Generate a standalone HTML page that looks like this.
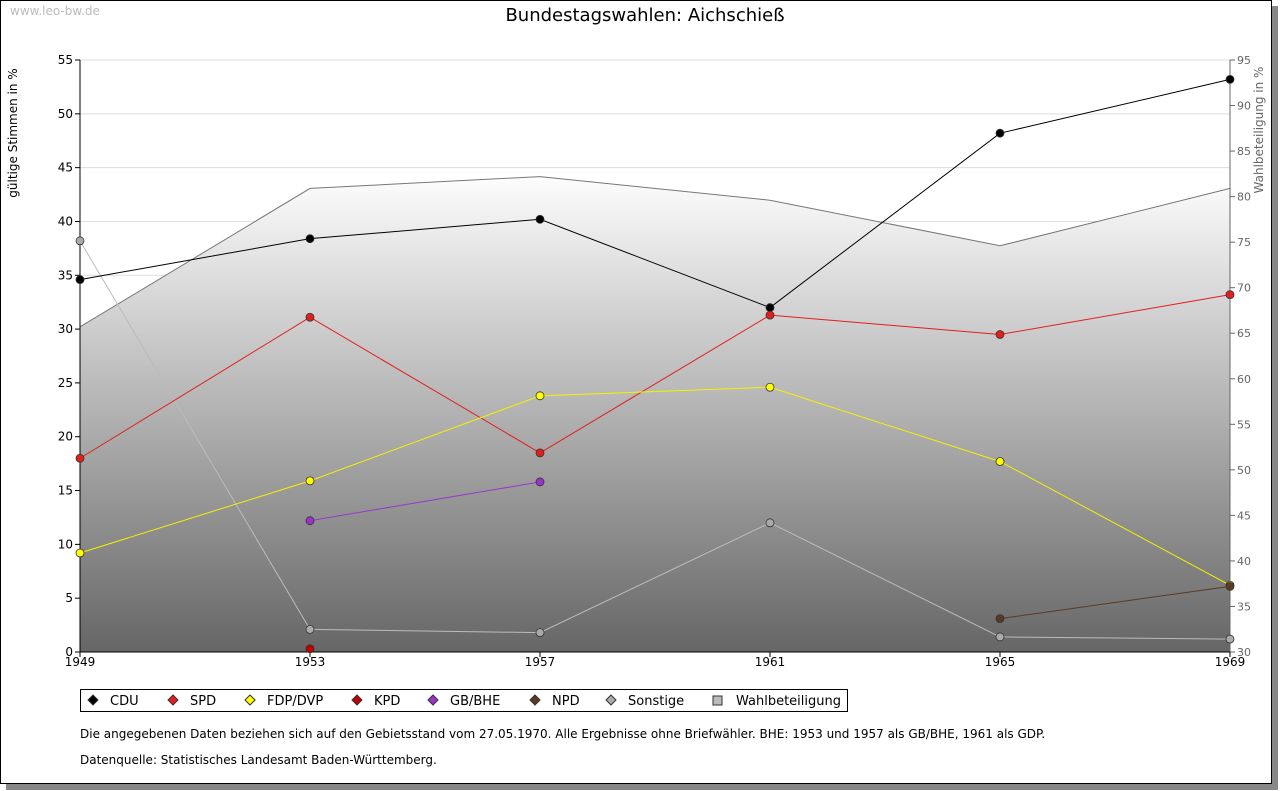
<!DOCTYPE html>
<html><head><meta charset="utf-8"><style>
body{margin:0;background:#fff;font-family:"DejaVu Sans","Liberation Sans",sans-serif}
#frame{position:absolute;left:0;top:0;width:1272px;height:784px;border:1px solid #000;box-sizing:border-box;box-shadow:6px 6px 0 #888;background:#fff}
</style></head><body>
<div id="frame"></div>
<svg id="c" width="1280" height="791" style="position:absolute;left:0;top:0" font-family="DejaVu Sans, Liberation Sans, sans-serif">
<defs><linearGradient id="g" x1="0" y1="170" x2="0" y2="652" gradientUnits="userSpaceOnUse"><stop offset="0" stop-color="#ffffff"/><stop offset="1" stop-color="#666666"/></linearGradient></defs>
<text x="10" y="15" font-size="12" fill="#bbb">www.leo-bw.de</text>
<text x="645" y="21" font-size="18" text-anchor="middle">Bundestagswahlen: Aichschieß</text>
<text transform="translate(17,133) rotate(-90)" font-size="12" text-anchor="middle">gültige Stimmen in %</text>
<text transform="translate(1263,130) rotate(-90)" font-size="12" fill="#666" text-anchor="middle">Wahlbeteiligung in %</text>
<g id="plot"></g>
<g id="legend"></g>
<text x="80" y="738" font-size="12">Die angegebenen Daten beziehen sich auf den Gebietsstand vom 27.05.1970. Alle Ergebnisse ohne Briefwähler. BHE: 1953 und 1957 als GB/BHE, 1961 als GDP.</text>
<text x="80" y="764" font-size="12">Datenquelle: Statistisches Landesamt Baden-Württemberg.</text>
</svg>
<script>
const years=[1949,1953,1957,1961,1965,1969];
const leftTicks=[0,5,10,15,20,25,30,35,40,45,50,55];
const rightTicks=[30,35,40,45,50,55,60,65,70,75,80,85,90,95];
const turnout=[65.7,80.9,82.2,79.6,74.6,80.9];
const cdu=[34.6,38.4,40.2,32.0,48.2,53.2];
const spd=[18.0,31.1,18.5,31.3,29.5,33.2];
const fdp=[9.2,15.9,23.8,24.6,17.7,6.2];
const kpd=[null,0.3,null,null,null,null];
const gbbhe=[null,12.2,15.8,null,null,null];
const npd=[null,null,null,null,3.1,6.1];
const sonst=[38.2,2.1,1.8,12.0,1.4,1.2];
const X0=80,X1=1230,Y0=652,Y1=60;
const xs=i=>X0+(X1-X0)*(years[i]-1949)/20;
const yl=v=>Y0-(Y0-Y1)*v/55;
const yr=v=>Y0-(Y0-Y1)*(v-30)/65;
const NS='http://www.w3.org/2000/svg';
const P=document.getElementById('plot');
function mk(t,a,parent){const e=document.createElementNS(NS,t);for(const k in a)e.setAttribute(k,a[k]);(parent||P).appendChild(e);return e;}
// grid first
leftTicks.forEach(t=>{const y=yl(t);
 if(t>0){let g=mk('line',{x1:X0,x2:X1,y1:y,y2:y,stroke:'#ddd'});}});
// turnout area
let d='M'+xs(0)+','+Y0;years.forEach((y,i)=>d+=' L'+xs(i)+','+yr(turnout[i]));d+=' L'+xs(5)+','+Y0+' Z';
let area=mk('path',{d:d,fill:'url(#g)'});


leftTicks.forEach(t=>{const y=yl(t);
 mk('line',{x1:X0-5,x2:X0,y1:y,y2:y,stroke:'#000'});
 let tx=mk('text',{x:X0-7,y:y+4,'font-size':12,'text-anchor':'end'});tx.textContent=t;
 });
rightTicks.forEach(t=>{const y=yr(t);
 mk('line',{x1:X1,x2:X1+5,y1:y,y2:y,stroke:'#666'});
 let tx=mk('text',{x:X1+7,y:y+4,'font-size':11,fill:'#666'});tx.textContent=t;
 });
let tl=mk('path',{fill:'none',stroke:'#777'});
tl.setAttribute('d','M'+years.map((y,i)=>xs(i)+','+yr(turnout[i])).join(' L'));


mk('line',{x1:X0,x2:X0,y1:Y1,y2:Y0,stroke:'#000'});
mk('line',{x1:X1,x2:X1,y1:Y1,y2:Y0,stroke:'#666'});
mk('line',{x1:X0,x2:X1,y1:Y0,y2:Y0,stroke:'#000'});
years.forEach((y,i)=>{mk('line',{x1:xs(i),x2:xs(i),y1:Y0,y2:Y0+5,stroke:'#000'});
 let tx=mk('text',{x:xs(i),y:Y0+14,'font-size':12,'text-anchor':'middle'});tx.textContent=y;
 });
const series=[['sonstige',sonst,'#bbbbbb','#aaa'],['cdu',cdu,'#000','#000'],['spd',spd,'#e31e1e','#e31e1e'],['fdp',fdp,'#f5f000','#ffff00'],['kpd',kpd,'#c00000','#c00000'],['gbbhe',gbbhe,'#9933cc','#9933cc'],['npd',npd,'#5a3a22','#5a3a22']];
series.forEach(([n,vals,lc,fc])=>{
 const pts=[];vals.forEach((v,i)=>{if(v!=null)pts.push([xs(i),yl(v)]);});
 if(pts.length>1){let l=mk('path',{d:'M'+pts.map(p=>p.join(',')).join(' L'),fill:'none',stroke:lc,'stroke-width':1});
  }
 pts.forEach(p=>{let c=mk('circle',{cx:p[0],cy:p[1],r:4,fill:fc,stroke:'#333','stroke-width':0.8});
  });
});
const L=document.getElementById('legend');
mk('rect',{x:80.5,y:689.5,width:767,height:22,fill:'#fff',stroke:'#000'},L);
const leg=[['CDU','#000',110],['SPD','#e31e1e',190],['FDP/DVP','#ffff00',267],['KPD','#c00000',374],['GB/BHE','#9933cc',450],['NPD','#5a3a22',552],['Sonstige','#aaa',628],['Wahlbeteiligung','#bbb',736]];
leg.forEach(([t,c,x],i)=>{
 if(i<7){mk('path',{d:`M${x-17},${695} l5,5 l-5,5 l-5,-5 z`,fill:c,stroke:'#333'},L);}
 else{mk('rect',{x:x-23,y:696,width:9,height:9,fill:c,stroke:'#333'},L);}
 let tx=mk('text',{x:x,y:705,'font-size':13},L);tx.textContent=t;
 });
</script>
</body></html>
